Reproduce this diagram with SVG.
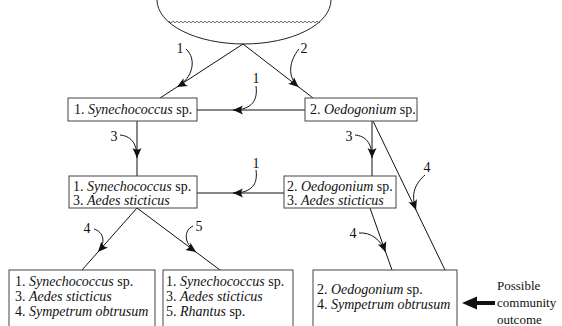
<svg xmlns="http://www.w3.org/2000/svg" width="562" height="326" viewBox="0 0 562 326">
<style>
  .box { fill: #ffffff; stroke: #444444; stroke-width: 1; }
  .t { font-family: "Liberation Serif", "Times New Roman", serif; font-size: 14px; fill: #111111; }
  .it { font-style: italic; }
  .lab { font-family: "Liberation Serif", "Times New Roman", serif; font-size: 14px; fill: #111111; text-anchor: middle; }
  .side { font-family: "Liberation Serif", "Times New Roman", serif; font-size: 13px; fill: #111111; }
  .edge { fill: none; stroke: #111111; stroke-width: 1; }
  .curve { fill: none; stroke: #111111; stroke-width: 1; marker-end: url(#head); }
</style>
<defs>
  <marker id="head" viewBox="-10 -5 11 10" refX="0" refY="0" markerWidth="11" markerHeight="10" markerUnits="userSpaceOnUse" orient="auto">
    <path d="M0,0 L-10,-4.5 Q-6.5,0 -10,4.5 Z" fill="#111111"/>
  </marker>
</defs>
<rect width="562" height="326" fill="#ffffff"/>

<g id="pond">
  <path d="M157,0 A87,44 0 0 0 331,0" fill="none" stroke="#222222" stroke-width="1"/>
  <path d="M168,22 q1,-1.6 2,0 t2,0 t2,0 t2,0 t2,0 t2,0 t2,0 t2,0 t2,0 t2,0 t2,0 t2,0 t2,0 t2,0 t2,0 t2,0 t2,0 t2,0 t2,0 t2,0 t2,0 t2,0 t2,0 t2,0 t2,0 t2,0 t2,0 t2,0 t2,0 t2,0 t2,0 t2,0 t2,0 t2,0 t2,0 t2,0 t2,0 t2,0 t2,0 t2,0 t2,0 t2,0 t2,0 t2,0 t2,0 t2,0 t2,0 t2,0 t2,0 t2,0 t2,0 t2,0 t2,0 t2,0 t2,0 t2,0 t2,0 t2,0 t2,0 t2,0 t2,0 t2,0 t2,0 t2,0 t2,0 t2,0 t2,0 t2,0 t2,0 t2,0 t2,0 t2,0 t2,0 t2,0 t2,0 t2,0" fill="none" stroke="#444444" stroke-width="0.8"/>
</g>

<g id="connectors">
  <path class="edge" d="M243,44 L160,98"/>
  <path class="edge" d="M243,44 L313,98"/>
  <path class="edge" d="M305,110 L197,110"/>
  <path class="edge" d="M137,121 L137,176"/>
  <path class="edge" d="M372,121 L372,176"/>
  <path class="edge" d="M373,121 L445,270"/>
  <path class="edge" d="M284,193 L197,193"/>
  <path class="edge" d="M137,208 L82,270"/>
  <path class="edge" d="M137,208 L220,270"/>
  <path class="edge" d="M370,208 L392,270"/>

  <path class="curve" d="M186,49 C197,59 193,78 177,87"/>
  <path class="curve" d="M299,49 C289,61 287,77 298.5,87"/>
  <path class="curve" d="M256,86 C258,100 252,110 233,110"/>
  <path class="curve" d="M120,135 C130,136 137,142 137,158"/>
  <path class="curve" d="M355,135 C365,136 372,142 372,158"/>
  <path class="curve" d="M256,170 C258,184 252,193 233,193"/>
  <path class="curve" d="M425,175 C416,183 410,193 416,210"/>
  <path class="curve" d="M94,229 C104,232 106,243 98,252"/>
  <path class="curve" d="M193,226 C184,230 183,243 196,252"/>
  <path class="curve" d="M359,233 C371,232 381,240 385.5,252"/>

  <text class="lab" x="180" y="53">1</text>
  <text class="lab" x="304" y="53">2</text>
  <text class="lab" x="256" y="83">1</text>
  <text class="lab" x="114" y="141">3</text>
  <text class="lab" x="349" y="141">3</text>
  <text class="lab" x="256" y="168">1</text>
  <text class="lab" x="427" y="172">4</text>
  <text class="lab" x="87" y="233">4</text>
  <text class="lab" x="199" y="231">5</text>
  <text class="lab" x="353" y="238">4</text>
</g>

<g id="n1">
  <rect class="box" x="68" y="98" width="129" height="23"/>
  <text class="t" x="74" y="114">1. <tspan class="it">Synechococcus</tspan> sp.</text>
</g>
<g id="n2">
  <rect class="box" x="305" y="98" width="112" height="23"/>
  <text class="t" x="310" y="114">2. <tspan class="it">Oedogonium</tspan> sp.</text>
</g>
<g id="n3">
  <rect class="box" x="69" y="176" width="128" height="32"/>
  <text class="t" x="73" y="191">1. <tspan class="it">Synechococcus</tspan> sp.</text>
  <text class="t" x="73" y="205">3. <tspan class="it">Aedes sticticus</tspan></text>
</g>
<g id="n4">
  <rect class="box" x="284" y="176" width="112" height="32"/>
  <text class="t" x="287" y="191">2. <tspan class="it">Oedogonium</tspan> sp.</text>
  <text class="t" x="287" y="205">3. <tspan class="it">Aedes sticticus</tspan></text>
</g>
<g id="n5">
  <rect class="box" x="9" y="270" width="146" height="70"/>
  <text class="t" x="15" y="286">1. <tspan class="it">Synechococcus</tspan> sp.</text>
  <text class="t" x="15" y="301">3. <tspan class="it">Aedes sticticus</tspan></text>
  <text class="t" x="15" y="316">4. <tspan class="it">Sympetrum obtrusum</tspan></text>
</g>
<g id="n6">
  <rect class="box" x="163" y="270" width="130" height="70"/>
  <text class="t" x="166" y="286">1. <tspan class="it">Synechococcus</tspan> sp.</text>
  <text class="t" x="166" y="301">3. <tspan class="it">Aedes sticticus</tspan></text>
  <text class="t" x="166" y="316">5. <tspan class="it">Rhantus</tspan> sp.</text>
</g>
<g id="n7">
  <rect class="box" x="313" y="270" width="144" height="70"/>
  <text class="t" x="317" y="294">2. <tspan class="it">Oedogonium</tspan> sp.</text>
  <text class="t" x="317" y="309">4. <tspan class="it">Sympetrum obtrusum</tspan></text>
</g>

<g id="outcome">
  <path d="M462,303 L477,296.5 L477,301 L495,301 L495,305 L477,305 L477,309.5 Z" fill="#111111"/>
  <text class="side" x="497" y="290">Possible</text>
  <text class="side" x="497" y="307">community</text>
  <text class="side" x="497" y="324">outcome</text>
</g>
</svg>
